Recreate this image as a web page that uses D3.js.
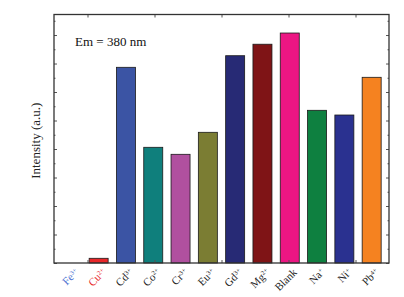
<!DOCTYPE html>
<html>
<head>
<meta charset="utf-8">
<script src="https://cdn.jsdelivr.net/npm/d3@7"></script>
<style>
  body { margin: 0; background: #fff; }
  text { font-family: "Liberation Serif", "DejaVu Serif", serif; }
</style>
</head>
<body>
<figure id="chart" style="margin:0"></figure>
<script>
// ions tested and their intensity at Em = 380 nm
const ions = ["Fe", "Cu", "Cd", "Co", "Cr", "Eu", "Gd", "Mg", "Blank", "Na", "Ni", "Pb"];
const charges = ["3+", "2+", "3+", "2+", "3+", "3+", "3+", "2+", "", "+", "+", "4+"];
const intensity = [0, 1650, 68670, 40600, 38140, 45860, 72740, 76770, 80700, 53580, 51930, 65160];
const barColors = ["#3b54a4", "#e8272a", "#3b54a4", "#0f7f7c", "#b0509f", "#7b7d33", "#272a75", "#7f1416", "#ec1683", "#0e8040", "#2a3190", "#f58220"];
const labelColors = ["#4a6fd1", "#e8272a", "#222", "#222", "#222", "#222", "#222", "#222", "#222", "#222", "#222", "#222"];
const yTicks = d3.range(0, 87200, 5000);

const width = 404, height = 297;
const margin = {top: 14.5, right: 15, bottom: 34, left: 54};

const svg = d3.select("#chart").append("svg")
  .attr("width", width)
  .attr("height", height);

const x = d3.scaleBand()
  .domain(ions)
  .range([margin.left, width - margin.right])
  .paddingInner(0.304)
  .paddingOuter(0.287);

// the frame has its own evenly spaced ticks along top and bottom
const xFrame = d3.scaleLinear().domain([0, 5]).range([margin.left, width - margin.right]);

const y = d3.scaleLinear()
  .domain([0, 87200])
  .range([height - margin.bottom, margin.top]);

// bars
svg.selectAll("rect.bar")
  .data(ions).enter()
  .append("rect")
  .attr("class", "bar")
  .attr("x", (d) => x(d))
  .attr("width", x.bandwidth())
  .attr("y", (d, i) => y(intensity[i]))
  .attr("height", (d, i) => y(0) - y(intensity[i]))
  .attr("fill", (d, i) => barColors[i])
  .attr("stroke", (d, i) => intensity[i] > 0 ? "#1a1a1a" : "none")
  .attr("stroke-width", 0.8);

// inward ticks, left and right
const tickLen = (v) => (v % 10000 === 0 ? 3 : 1.5);
svg.append("g")
  .attr("transform", `translate(${margin.left},0)`)
  .call(d3.axisRight(y).tickValues(yTicks).tickSize(0).tickFormat(""))
  .call((g) => g.select(".domain").remove())
  .call((g) => g.selectAll(".tick line").attr("x2", tickLen).attr("stroke", "#555"));
svg.append("g")
  .attr("transform", `translate(${width - margin.right},0)`)
  .call(d3.axisLeft(y).tickValues(yTicks).tickSize(0).tickFormat(""))
  .call((g) => g.select(".domain").remove())
  .call((g) => g.selectAll(".tick line").attr("x2", (v) => -tickLen(v)).attr("stroke", "#555"));

// top and bottom ticks
const frameTicks = [0.5, 1.5, 2.5, 3.5, 4.5];
svg.append("g")
  .attr("transform", `translate(0,${margin.top})`)
  .call(d3.axisBottom(xFrame).tickValues(frameTicks).tickSize(3).tickFormat(""))
  .call((g) => g.select(".domain").remove())
  .call((g) => g.selectAll(".tick line").attr("stroke", "#555"));
svg.append("g")
  .attr("transform", `translate(0,${height - margin.bottom})`)
  .call(d3.axisTop(xFrame).tickValues(frameTicks).tickSize(3).tickFormat(""))
  .call((g) => g.select(".domain").remove())
  .call((g) => g.selectAll(".tick line").attr("stroke", "#555"));

// frame
svg.append("rect")
  .attr("x", margin.left)
  .attr("y", margin.top)
  .attr("width", width - margin.left - margin.right)
  .attr("height", height - margin.top - margin.bottom)
  .attr("fill", "none")
  .attr("stroke", "#333")
  .attr("stroke-width", 1.3);

// rotated ion labels with superscript charge
const labels = svg.selectAll("text.ion")
  .data(ions).enter()
  .append("text")
  .attr("class", "ion")
  .attr("transform", (d) => `translate(${x(d) + x.bandwidth() / 2 + 8},${height - margin.bottom + 10}) rotate(-45)`)
  .attr("text-anchor", "end")
  .attr("fill", (d, i) => labelColors[i])
  .style("font-size", "11px");
labels.append("tspan").text((d) => d);
labels.append("tspan")
  .attr("dy", "-0.5em")
  .style("font-size", "6.5px")
  .text((d, i) => charges[i]);

// y axis title
svg.append("text")
  .attr("transform", `translate(40,${(margin.top + height - margin.bottom) / 2 + 2}) rotate(-90)`)
  .attr("text-anchor", "middle")
  .attr("fill", "#222")
  .style("font-size", "13px")
  .text("Intensity (a.u.)");

// annotation
svg.append("text")
  .attr("x", 75)
  .attr("y", 46)
  .attr("fill", "#111")
  .style("font-size", "13px")
  .text("Em = 380 nm");
</script>
</body>
</html>
